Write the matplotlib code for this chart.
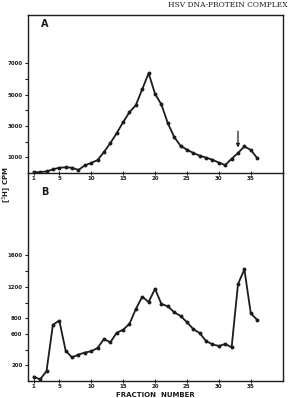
import matplotlib
matplotlib.use('Agg')
import matplotlib.pyplot as plt

# fraction numbers and [3H] cpm
fractions = list(range(1, 37))
cpm_a = [40, 60, 100, 230, 340, 360, 340, 190, 490, 640, 830, 1340, 1910, 2550,
         3250, 3890, 4340, 5360, 6380, 5060, 4380, 3190, 2300, 1740, 1490, 1280,
         1110, 980, 850, 660, 510, 910, 1280, 1700, 1470, 960]
cpm_b = [55, 21, 126, 716, 770, 387, 300, 337, 362, 379, 421, 535, 493, 615,
         653, 728, 918, 1074, 1006, 1175, 981, 952, 876, 829, 749, 661, 610,
         509, 467, 446, 472, 429, 1234, 1423, 863, 779]
xticks = [1, 5, 10, 15, 20, 25, 30, 35]
yticks_a = [1000, 2000, 3000, 4000, 5000, 6000, 7000]
ylabels_a = ['1000', '', '3000', '', '5000', '', '7000']
yticks_b = [200, 400, 600, 800, 1000, 1200, 1400, 1600]
ylabels_b = ['200', '', '600', '800', '', '1200', '', '1600']
arrow_fraction = 33

ink = '#1c1c1c'
W, H = 294, 398
fig = plt.figure(figsize=(W / 100, H / 100), dpi=100)

left, right = 28 / W, 283 / W
ax_b = fig.add_axes([left, 1 - 381 / H, right - left, (381 - 173) / H])
ax_a = fig.add_axes([left, 1 - 173 / H, right - left, (173 - 15) / H])
ax_b.patch.set_alpha(0)
ax_a.patch.set_alpha(0)

for ax, ys in ((ax_a, cpm_a), (ax_b, cpm_b)):
    ax.plot(fractions, ys, color=ink, lw=1.3, marker='o', ms=1.8)
    ax.set_xlim(0.1, 40.05)
    ax.set_xticks(xticks)
    ax.set_xticklabels([str(t) for t in xticks], fontsize=4, fontweight='bold', color=ink)
    ax.tick_params(axis='x', direction='inout', length=3, width=0.8, pad=1, color=ink)
    ax.tick_params(axis='y', direction='out', length=2.5, width=0.8, pad=1.5, color=ink,
                   labelsize=4, labelcolor=ink)
    for s in ax.spines.values():
        s.set_color(ink)
        s.set_linewidth(1.0)

ax_a.set_ylim(0, 10100)
ax_a.set_yticks(yticks_a)
ax_a.set_yticklabels(ylabels_a, fontweight='bold')
ax_a.text(0.05, 0.94, 'A', transform=ax_a.transAxes, fontsize=7, fontweight='bold',
          color=ink, va='center')
ax_a.annotate('', xy=(arrow_fraction, 1450), xytext=(arrow_fraction, 2850),
              arrowprops=dict(arrowstyle='-|>', color=ink, lw=0.9, mutation_scale=5))

ax_b.set_ylim(0, 2650)
ax_b.set_yticks(yticks_b)
ax_b.set_yticklabels(ylabels_b, fontweight='bold')
ax_b.spines['top'].set_visible(False)
ax_b.text(0.05, 0.91, 'B', transform=ax_b.transAxes, fontsize=7, fontweight='bold',
          color=ink, va='center')
ax_b.set_xlabel('FRACTION  NUMBER', fontsize=5, fontweight='bold', color=ink, labelpad=2)

fig.text(7 / W, 1 - 185 / H, '[$^3$H] CPM', rotation=90, fontsize=5, fontweight='bold',
         color=ink, ha='center', va='center')
fig.text(168 / W, 1 - 5 / H, 'HSV DNA-PROTEIN COMPLEX', family='DejaVu Serif',
         fontsize=5.4, color=ink, ha='left', va='center')

fig.savefig('out.png', dpi=100, facecolor='white')
